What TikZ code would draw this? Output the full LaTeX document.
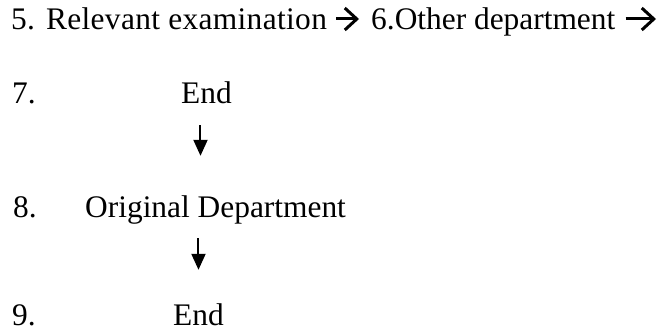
\documentclass[tikz,border=0pt]{standalone}
\usepackage{fontspec}
\setmainfont{Liberation Serif}
\usetikzlibrary{arrows.meta,positioning}

\begin{document}
\begin{tikzpicture}[x=1pt,y=-1pt,
  txt/.style={anchor=base west,inner sep=0pt,text height=22pt,text depth=0pt,font=\fontsize{31.4}{36}\selectfont},
  ha/.style={-{Straight Barb[length=12pt,width=22pt]},line width=3pt},
  va/.style={-{Triangle[length=16pt,width=14pt]},line width=2pt}]
  \useasboundingbox (0,0) rectangle (662,334);
  % row 5/6
  \node[txt] (rel) at (11,30) {\addfontfeature{LetterSpace=1.1}5. Relevant examination};
  \node[txt] (oth) at (371,30) {6.Other department};
  \coordinate (tail) at (656,19);
  % rows 7-9
  \node[txt] (n7) at (12,104) {7.};
  \node[txt] (endA) at (181,104) {End};
  \node[txt] (n8) at (13,218) {8.};
  \node[txt] (dept) at (85,218) {Original Department};
  \node[txt] (n9) at (12,325) {9.};
  \node[txt] (endB) at (173,325) {End};
  \draw[ha,shorten <=9pt,shorten >=12pt] (rel.east) -- (oth.west);
  \draw[ha,shorten <=10pt] (oth.east) -- (tail);
  \draw[va,shorten <=21pt,shorten >=40pt] ([xshift=-6pt]endA.south) -- ([xshift=-6pt]endA.south |- dept.north);
  \draw[va,shorten <=20pt,shorten >=33pt] (endB.north |- dept.south) -- (endB.north);
\end{tikzpicture}
\end{document}
